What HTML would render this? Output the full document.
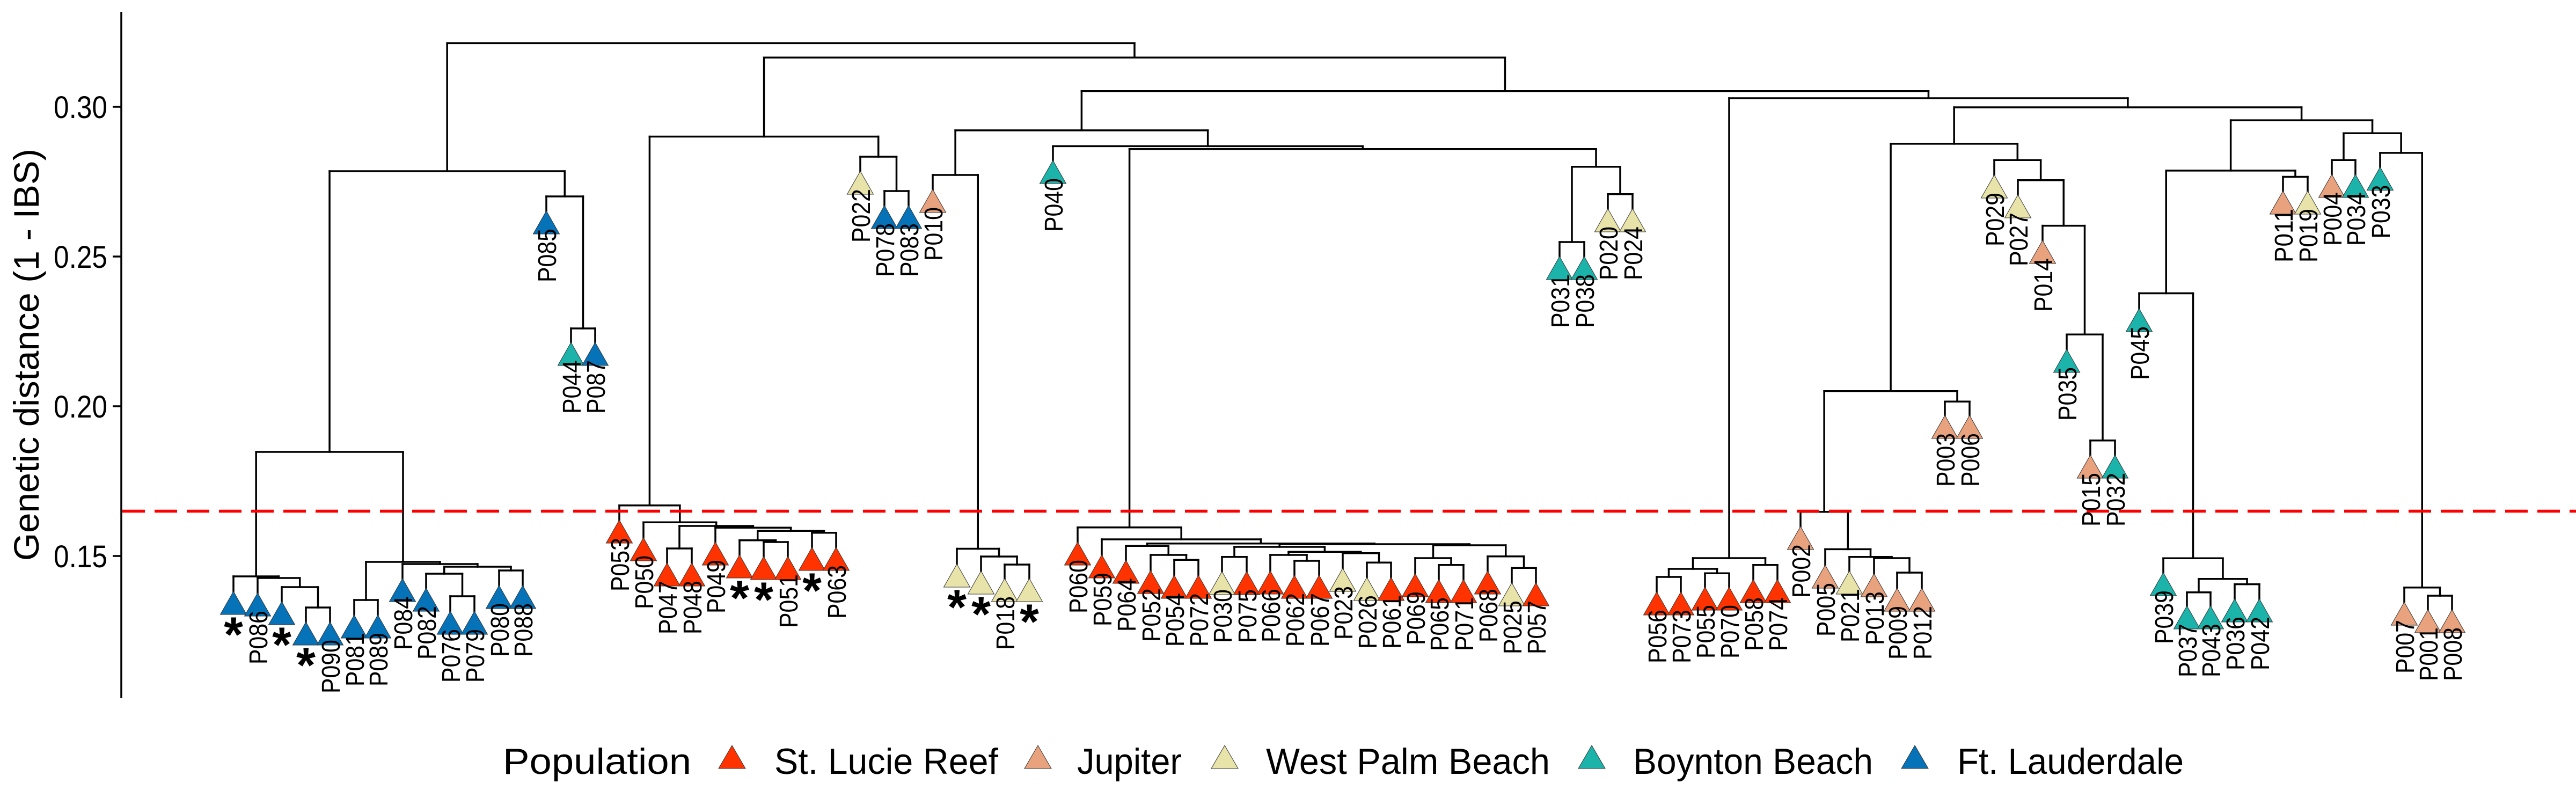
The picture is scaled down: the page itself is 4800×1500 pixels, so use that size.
<!DOCTYPE html>
<html><head><meta charset="utf-8">
<style>
html,body{margin:0;padding:0;background:#fff;}
svg{display:block;}
text{font-family:"Liberation Sans",Arial,sans-serif;fill:#000;}
</style></head>
<body>
<svg id="s" xmlns="http://www.w3.org/2000/svg" width="4800" height="1500" viewBox="0 0 4800 1500">
<rect width="4800" height="1500" fill="#fff"/>
<!-- axis -->
<line x1="226" y1="22" x2="226" y2="1301" stroke="#000" stroke-width="3.5"/>
<g stroke="#000" stroke-width="3.5">
<line x1="210" y1="199" x2="226" y2="199"/>
<line x1="210" y1="478" x2="226" y2="478"/>
<line x1="210" y1="757" x2="226" y2="757"/>
<line x1="210" y1="1036" x2="226" y2="1036"/>
</g>
<g font-size="58" text-anchor="end">
<text x="200" y="220" textLength="100" lengthAdjust="spacingAndGlyphs">0.30</text>
<text x="200" y="499" textLength="100" lengthAdjust="spacingAndGlyphs">0.25</text>
<text x="200" y="778" textLength="100" lengthAdjust="spacingAndGlyphs">0.20</text>
<text x="200" y="1057" textLength="100" lengthAdjust="spacingAndGlyphs">0.15</text>
</g>
<text transform="translate(72,661) rotate(-90)" font-size="66" text-anchor="middle" textLength="768" lengthAdjust="spacingAndGlyphs">Genetic distance (1 - IBS)</text>
<g id="tree"></g>
<!-- legend -->
<g font-size="68">
<text x="937" y="1442" textLength="351" lengthAdjust="spacingAndGlyphs">Population</text>
<polygon points="1364,1389 1339,1432 1389,1432" fill="#FF3300" stroke="#333" stroke-width="1"/>
<text x="1443" y="1442" textLength="417" lengthAdjust="spacingAndGlyphs">St. Lucie Reef</text>
<polygon points="1934,1389 1909,1432 1959,1432" fill="#E8A27E" stroke="#333" stroke-width="1"/>
<text x="2007" y="1442" textLength="195" lengthAdjust="spacingAndGlyphs">Jupiter</text>
<polygon points="2282,1389 2257,1432 2307,1432" fill="#E8E3A9" stroke="#333" stroke-width="1"/>
<text x="2359" y="1442" textLength="529" lengthAdjust="spacingAndGlyphs">West Palm Beach</text>
<polygon points="2966,1389 2941,1432 2991,1432" fill="#1CB3AA" stroke="#333" stroke-width="1"/>
<text x="3043" y="1442" textLength="447" lengthAdjust="spacingAndGlyphs">Boynton Beach</text>
<polygon points="3568,1389 3543,1432 3593,1432" fill="#0672B8" stroke="#333" stroke-width="1"/>
<text x="3647" y="1442" textLength="422" lengthAdjust="spacingAndGlyphs">Ft. Lauderdale</text>
</g>
</svg>
<script>
(function(){
var C={R:'#FF3300',J:'#E8A27E',W:'#E8E3A9',B:'#1CB3AA',F:'#0672B8'};
var leaves=[];
function lf(x,b,lab,c){var o={x:x,b:b,lab:lab,c:c,h:b-20};leaves.push(o);return o;}
function nd(h,a,b){return {h:h,kids:[a,b],x:(a.x+b.x)/2};}
// left blue cluster
var a1=lf(435,1145,'*','F'),P086=lf(480,1148,'P086','F'),b1=lf(525,1164,'*','F'),c1=lf(570,1202,'*','F'),P090=lf(615,1202,'P090','F');
var n1=nd(1132,c1,P090),n2=nd(1094,b1,n1),n3=nd(1077,P086,n2),n4=nd(1074,a1,n3);
var P081=lf(660,1189,'P081','F'),P089=lf(704,1189,'P089','F'),P084=lf(750,1121,'P084','F'),P082=lf(794,1139,'P082','F'),
P076=lf(839,1182,'P076','F'),P079=lf(884,1182,'P079','F'),P080=lf(930,1134,'P080','F'),P088=lf(974,1134,'P088','F');
var m1=nd(1118,P081,P089),m2=nd(1111,P076,P079),m3=nd(1069,P082,m2),m4=nd(1063,P080,P088),m5=nd(1056,m3,m4),m6=nd(1051,P084,m5),m7=nd(1047,m1,m6);
var LB=nd(842,n4,m7);
var P085=lf(1018,436,'P085','F'),P044=lf(1064,681,'P044','B'),P087=lf(1109,681,'P087','F');
var p1=nd(612,P044,P087),p2=nd(366,P085,p1);
var LT=nd(319,LB,p2);
// red1
var P053=lf(1154,1012,'P053','R'),P050=lf(1199,1045,'P050','R'),P047=lf(1243,1092,'P047','R'),P048=lf(1289,1092,'P048','R'),
P049=lf(1333,1053,'P049','R'),s1=lf(1378,1077,'*','R'),s2=lf(1423,1080,'*','R'),P051=lf(1468,1080,'P051','R'),s3=lf(1513,1063,'*','R'),P063=lf(1558,1063,'P063','R');
var r1=nd(1022,P047,P048),rH=nd(1010,s2,P051),rF=nd(1006.7,s1,rH),rG=nd(992.7,s3,P063),rE=nd(989.3,rF,rG),rD=nd(983.3,P049,rE),rB=nd(980,r1,rD),rA=nd(973.3,P050,rB),R1=nd(941.7,P053,rA);
var P022=lf(1603,362,'P022','W'),P078=lf(1648,426,'P078','F'),P083=lf(1693,426,'P083','F');
var w1=nd(356,P078,P083),Wn=nd(292,P022,w1);
var ML=nd(254.5,R1,Wn);
var P010=lf(1738,396,'P010','J');
var x1=lf(1783,1094,'*','W'),x2=lf(1828,1107,'*','W'),P018=lf(1872,1121,'P018','W'),x4=lf(1918,1121,'*','W');
var g1=nd(1052,P018,x4),g2=nd(1037,x2,g1),g3=nd(1022.5,x1,g2);
var V=nd(326,P010,g3);
var P040=lf(1962,342,'P040','B');
// red big
var L=function(x,b,l,c){return lf(x,b,l,c);};
var P060=L(2008,1053,'P060','R'),P059=L(2053,1077,'P059','R'),P064=L(2098,1087,'P064','R'),P052=L(2144,1106,'P052','R'),
P054=L(2188,1115,'P054','R'),P072=L(2233,1115,'P072','R'),P030=L(2277,1108,'P030','W'),P075=L(2323,1108,'P075','R'),
P066=L(2367,1107,'P066','R'),P062=L(2412,1115,'P062','R'),P067=L(2458,1115,'P067','R'),P023=L(2502,1102,'P023','W'),
P026=L(2547,1119,'P026','W'),P061=L(2592,1119,'P061','R'),P069=L(2637,1112,'P069','R'),P065=L(2681,1123,'P065','R'),
P071=L(2727,1123,'P071','R'),P068=L(2772,1107,'P068','R'),P025=L(2817,1129,'P025','W'),P057=L(2862,1129,'P057','R');
var e1=nd(1043.3,P054,P072),E=nd(1034,P052,e1),D=nd(1017.3,P064,E),h=nd(1037.7,P030,P075),j1=nd(1045,P062,P067),J=nd(1034,P066,j1),
k1=nd(1048.3,P026,P061),K=nd(1030.7,P023,k1),I=nd(1028.3,J,K),F=nd(1019,h,I),l1=nd(1052.7,P065,P071),Ln=nd(1040,P069,l1),
mm1=nd(1058.3,P025,P057),M=nd(1036.7,P068,mm1),G=nd(1016,Ln,M),Cn=nd(1014,F,G),B=nd(1012.7,D,Cn),A=nd(1005,P059,B),RB=nd(982.7,P060,A);
var P031=lf(2906,521,'P031','B'),P038=lf(2952,521,'P038','B'),P020=lf(2996,432,'P020','W'),P024=lf(3042,432,'P024','W');
var q1=nd(451,P031,P038),q2=nd(361.7,P020,P024),Q=nd(310.8,q1,q2);
var S=nd(277.7,RB,Q),T=nd(272.4,P040,S),U=nd(242.9,V,T);
// redC
var P056=lf(3087,1146,'P056','R'),P073=lf(3132,1146,'P073','R'),P055=lf(3177,1137,'P055','R'),P070=lf(3222,1137,'P070','R'),P058=lf(3267,1123,'P058','R'),P074=lf(3312,1123,'P074','R');
var c_1=nd(1075,P056,P073),c_2=nd(1068.3,P055,P070),c_3=nd(1060,c_1,c_2),c_4=nd(1052.7,P058,P074),RC=nd(1040,c_3,c_4);
// right
var P002=lf(3355,1024,'P002','J'),P005=lf(3401,1096,'P005','J'),P021=lf(3446,1107,'P021','W'),P013=lf(3492,1112,'P013','J'),P009=lf(3535,1139,'P009','J'),P012=lf(3581,1139,'P012','J');
var b4=nd(1067,P009,P012),B3=nd(1040,P013,b4),B2=nd(1037.7,P021,B3),C_=nd(1023.4,P005,B2),D_=nd(953.7,P002,C_);
var P003=lf(3624,817,'P003','J'),P006=lf(3670,817,'P006','J');
var p36=nd(748.3,P003,P006),F_=nd(728.7,D_,p36);
var P029=lf(3716,369,'P029','W'),P027=lf(3760,406,'P027','W'),P014=lf(3806,491,'P014','J'),P035=lf(3851,694,'P035','B'),P015=lf(3895,891,'P015','J'),P032=lf(3941,891,'P032','B');
var e15=nd(820.7,P015,P032),E4=nd(623.3,P035,e15),E3=nd(420.6,P014,E4),E2=nd(335.8,P027,E3),E_=nd(298.3,P029,E2);
var H_=nd(267.9,F_,E_);
var P045=lf(3986,618,'P045','B'),P039=lf(4031,1110,'P039','B'),P037=lf(4075,1172,'P037','B'),P043=lf(4119,1172,'P043','B'),P036=lf(4164,1159,'P036','B'),P042=lf(4210,1159,'P042','B');
var g37=nd(1103.7,P037,P043),g36=nd(1088.6,P036,P042),G5=nd(1078.7,g37,g36),G4=nd(1040.3,P039,G5),G3=nd(546.5,P045,G4);
var P011=lf(4254,399,'P011','J'),P019=lf(4300,399,'P019','W');
var g11=nd(329.5,P011,P019),G1=nd(317.9,G3,g11);
var P004=lf(4345,368,'P004','J'),P034=lf(4389,368,'P034','B');
var G6=nd(298.3,P004,P034);
var P033=lf(4435,354.5,'P033','B'),P007=lf(4480,1165,'P007','J'),P001=lf(4524,1179,'P001','J'),P008=lf(4569,1179,'P008','J');
var g18=nd(1110,P001,P008),G8=nd(1094.8,P007,g18),G7=nd(284.9,P033,G8),G2=nd(248.3,G6,G7),G_=nd(224.1,G1,G2),I_=nd(200,H_,G_);
var J_=nd(183,RC,I_),K_=nd(169.7,U,J_),M_=nd(107.2,ML,K_),ROOT=nd(80.4,LT,M_);

var out=[];
function draw(n){
  if(!n.kids)return;
  var a=n.kids[0],b=n.kids[1];
  out.push('<line x1="'+a.x+'" y1="'+n.h+'" x2="'+b.x+'" y2="'+n.h+'"/>');
  out.push('<line x1="'+a.x+'" y1="'+n.h+'" x2="'+a.x+'" y2="'+a.h+'"/>');
  out.push('<line x1="'+b.x+'" y1="'+n.h+'" x2="'+b.x+'" y2="'+b.h+'"/>');
  draw(a);draw(b);
}
draw(ROOT);
var s='<g stroke="#000" stroke-width="3.5" stroke-linecap="square">'+out.join('')+'</g>';
s+='<line x1="228" y1="952.5" x2="4800" y2="952.5" stroke="#FF0000" stroke-width="5.5" stroke-dasharray="42,18"/>';
var tri=[],txt=[];
leaves.forEach(function(l){
  tri.push('<polygon points="'+l.x+','+(l.b-43)+' '+(l.x-24.5)+','+l.b+' '+(l.x+24.5)+','+l.b+'" fill="'+C[l.c]+'" stroke="#333" stroke-width="1"/>');
  if(l.lab==='*'){
    txt.push('<text x="'+l.x+'" y="'+(l.b+69)+'" font-size="92" font-weight="bold" text-anchor="middle">*</text>');
  }else{
    txt.push('<text transform="translate('+(l.x+18)+','+(l.b-10)+') rotate(-90)" font-size="48" text-anchor="end" textLength="100" lengthAdjust="spacingAndGlyphs">'+l.lab+'</text>');
  }
});
s+=tri.join('')+txt.join('');
document.getElementById('tree').innerHTML=s;
})();
</script>
</body></html>
